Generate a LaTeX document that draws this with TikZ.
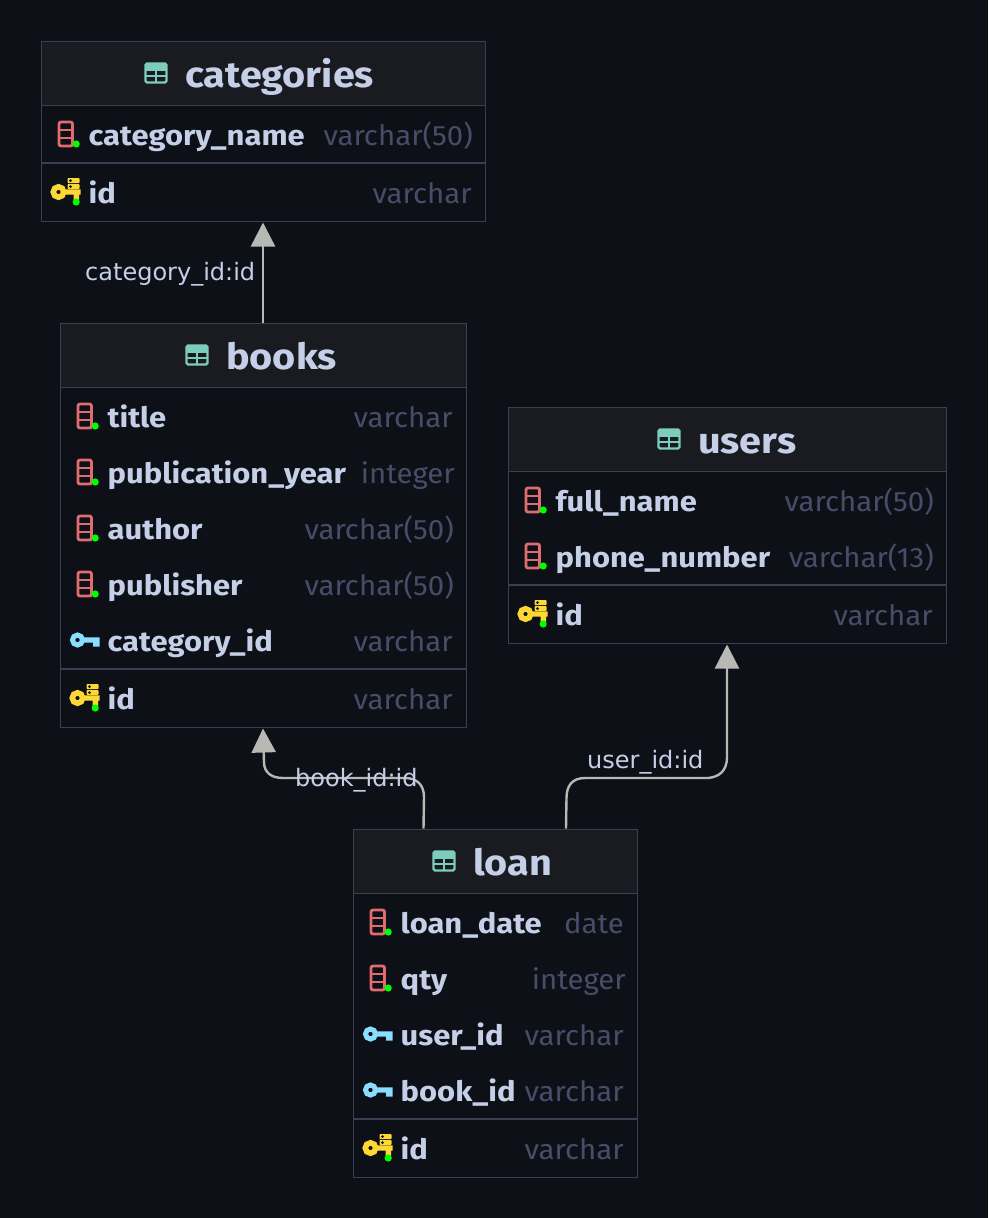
\documentclass[tikz,border=0pt]{standalone}
\usepackage{fontspec}
\setmainfont{Fira Sans}
\newfontfamily\stretchtitle[FakeStretch=1.1]{Fira Sans}
\newfontfamily\stretchbold[FakeStretch=1.105]{Fira Sans}
\newfontfamily\stretchtype[FakeStretch=1.05]{Fira Sans}
\newfontfamily\labelfont{DejaVu Sans}
\usetikzlibrary{arrows.meta}
\definecolor{bgc}{HTML}{0D1017}
\definecolor{headc}{HTML}{1A1B20}
\definecolor{borderc}{HTML}{3C3F54}
\definecolor{textc}{HTML}{C5D0E8}
\definecolor{typec}{HTML}{464D68}
\definecolor{tealc}{HTML}{7CCDBB}
\definecolor{redc}{HTML}{E06C70}
\definecolor{yelc}{HTML}{FDD835}
\definecolor{bluec}{HTML}{89DDFF}
\definecolor{greenc}{HTML}{00FF00}
\definecolor{edgec}{HTML}{B8B8B4}
\tikzset{
 x=1pt,y=-1pt,
 tablebox/.style={draw=borderc,line width=1pt,inner sep=0pt},
 headbox/.style={draw=borderc,line width=1pt,fill=headc,inner sep=0pt,minimum height=64pt},
 sepline/.style={draw=borderc,line width=1.5pt},
 titletext/.style={text=textc,inner sep=0pt,anchor=base west,font=\stretchtitle\fontsize{36}{36}\selectfont\bfseries},
 nametext/.style={text=textc,inner sep=0pt,anchor=base west,font=\stretchbold\fontsize{28}{28}\selectfont\bfseries},
 typetext/.style={text=typec,inner sep=0pt,anchor=base east,font=\stretchtype\fontsize{28}{28}\selectfont},
 edgetext/.style={text=textc,inner sep=0pt,anchor=base west,font=\labelfont\fontsize{24}{24}\selectfont},
 edgeline/.style={draw=edgec,line width=2.4pt,-{Triangle[length=24pt,width=24pt,fill=edgec]}},
}
% table icon, origin at its centre
\newcommand{\tblicon}[2]{%
 \begin{scope}[shift={(#1,#2)}]
  \draw[tealc,line width=2.2pt,rounded corners=1.5pt] (-10.5,-9.5) rectangle (10.5,9.5);
  \draw[tealc,line width=2.2pt] (-10.5,-3.5) -- (10.5,-3.5) (-10.5,3) -- (10.5,3) (0,-3.5) -- (0,9.5);
  \fill[tealc] (-10.5,-9.5) rectangle (10.5,-5);
 \end{scope}}
% column icon, origin at the start of the name, mid row
\newcommand{\colicon}[2]{%
 \begin{scope}[shift={(#1,#2)}]
  \draw[redc,line width=2.8pt,rounded corners=2pt] (-29.5,-12) rectangle (-16,12);
  \draw[redc,line width=2.6pt] (-29.5,-4) -- (-16,-4) (-29.5,4) -- (-16,4);
  \fill[greenc] (-12.3,10) circle (3.6);
 \end{scope}}
\newcommand{\fkicon}[2]{%
 \begin{scope}[shift={(#1,#2)}]
  \fill[bluec] (-24,-2.7) rectangle (-8,2.7) (-14.5,2) rectangle (-8,6.5);
  \draw[bluec,line width=5pt] (-30,0) circle (5);
 \end{scope}}
\newcommand{\pkicon}[2]{%
 \begin{scope}[shift={(#1,#2)}]
  \fill[yelc] (-24,-2.7) rectangle (-8,2.7) (-15,2) rectangle (-9.5,8);
  \draw[yelc,line width=5.6pt] (-30,0) circle (5.2);
  \fill[yelc,rounded corners=.8pt] (-21,-14) rectangle (-9,-8.8) (-21,-8) rectangle (-9,-3);
  \fill[bgc] (-18,-11.4) circle (1.5) (-18,-5.5) circle (1.5);
  \fill[greenc] (-12.3,10) circle (3.6);
 \end{scope}}
% \colrow{icon}{name x}{row centre y}{name}{type}{type right x}
\newcommand{\colrow}[6]{%
 \csname #1icon\endcsname{#2}{#3}%
 \path (#2,#3+11) node[nametext] {#4};
 \path (#6,#3+11) node[typetext] {#5};}
\begin{document}
\begin{tikzpicture}
\useasboundingbox (0,0) rectangle (988,1218);
\fill[bgc] (0,0) rectangle (988,1218);
% categories
\node[tablebox,minimum width=444pt,minimum height=180pt] (categories) at (263,131) {};
\node[headbox,minimum width=444pt] (categorieshead) at (263,73) {};
\tblicon{156}{73}
\node[titletext] (categoriestitle) at (185,87) {categories};
\draw[sepline] (41,163) -- (485,163);
\colrow{col}{88.5}{134}{category\_name}{varchar(50)}{473}
\colrow{pk}{88.5}{192}{id}{varchar}{472}
% books
\node[tablebox,minimum width=406pt,minimum height=404pt] (books) at (263,525) {};
\node[headbox,minimum width=406pt] (bookshead) at (263,355) {};
\tblicon{197}{355}
\node[titletext] (bookstitle) at (226,369) {books};
\draw[sepline] (60,669) -- (466,669);
\colrow{col}{107.5}{416}{title}{varchar}{453}
\colrow{col}{107.5}{472}{publication\_year}{integer}{455}
\colrow{col}{107.5}{528}{author}{varchar(50)}{454}
\colrow{col}{107.5}{584}{publisher}{varchar(50)}{454}
\colrow{fk}{107.5}{640}{category\_id}{varchar}{453}
\colrow{pk}{107.5}{698}{id}{varchar}{453}
% users
\node[tablebox,minimum width=438pt,minimum height=236pt] (users) at (727,525) {};
\node[headbox,minimum width=438pt] (usershead) at (727,439) {};
\tblicon{669}{439}
\node[titletext] (userstitle) at (698,453) {users};
\draw[sepline] (508,585) -- (946,585);
\colrow{col}{555.5}{500}{full\_name}{varchar(50)}{934}
\colrow{col}{555.5}{556}{phone\_number}{varchar(13)}{934}
\colrow{pk}{555.5}{614}{id}{varchar}{933}
% loan
\node[tablebox,minimum width=284pt,minimum height=348pt] (loan) at (495,1003) {};
\node[headbox,minimum width=284pt] (loanhead) at (495,861) {};
\tblicon{444}{861}
\node[titletext] (loantitle) at (473,875) {loan};
\draw[sepline] (353,1119) -- (637,1119);
\colrow{col}{400.5}{922}{loan\_date}{date}{624}
\colrow{col}{400.5}{978}{qty}{integer}{626}
\colrow{fk}{400.5}{1034}{user\_id}{varchar}{624}
\colrow{fk}{400.5}{1090}{book\_id}{varchar}{624}
\colrow{pk}{400.5}{1148}{id}{varchar}{624}
% connectors
\draw[edgeline] (books.north) -- ([yshift=-1pt]categories.south);
\draw[edgeline] ([xshift=71pt]loan.north west) -- (424,797) .. controls (424,786) and (418,778) .. (405,778) -- (283,778) .. controls (272,778) and (264,773) .. (264,762) -- ([yshift=-1pt]books.south);
\draw[edgeline] ([xshift=213.5pt]loan.north west) -- (566.5,798) .. controls (566.5,786) and (572,778) .. (585,778) -- (708,778) .. controls (718,777) and (727,772) .. (727,757) -- ([yshift=-1pt]users.south);
% edge labels
\node[edgetext] (catlabel) at (85,280) {category\_id:id};
\node[edgetext] (booklabel) at (295,786) {book\_id:id};
\node[edgetext] (userlabel) at (587,768) {user\_id:id};
\end{tikzpicture}
\end{document}
